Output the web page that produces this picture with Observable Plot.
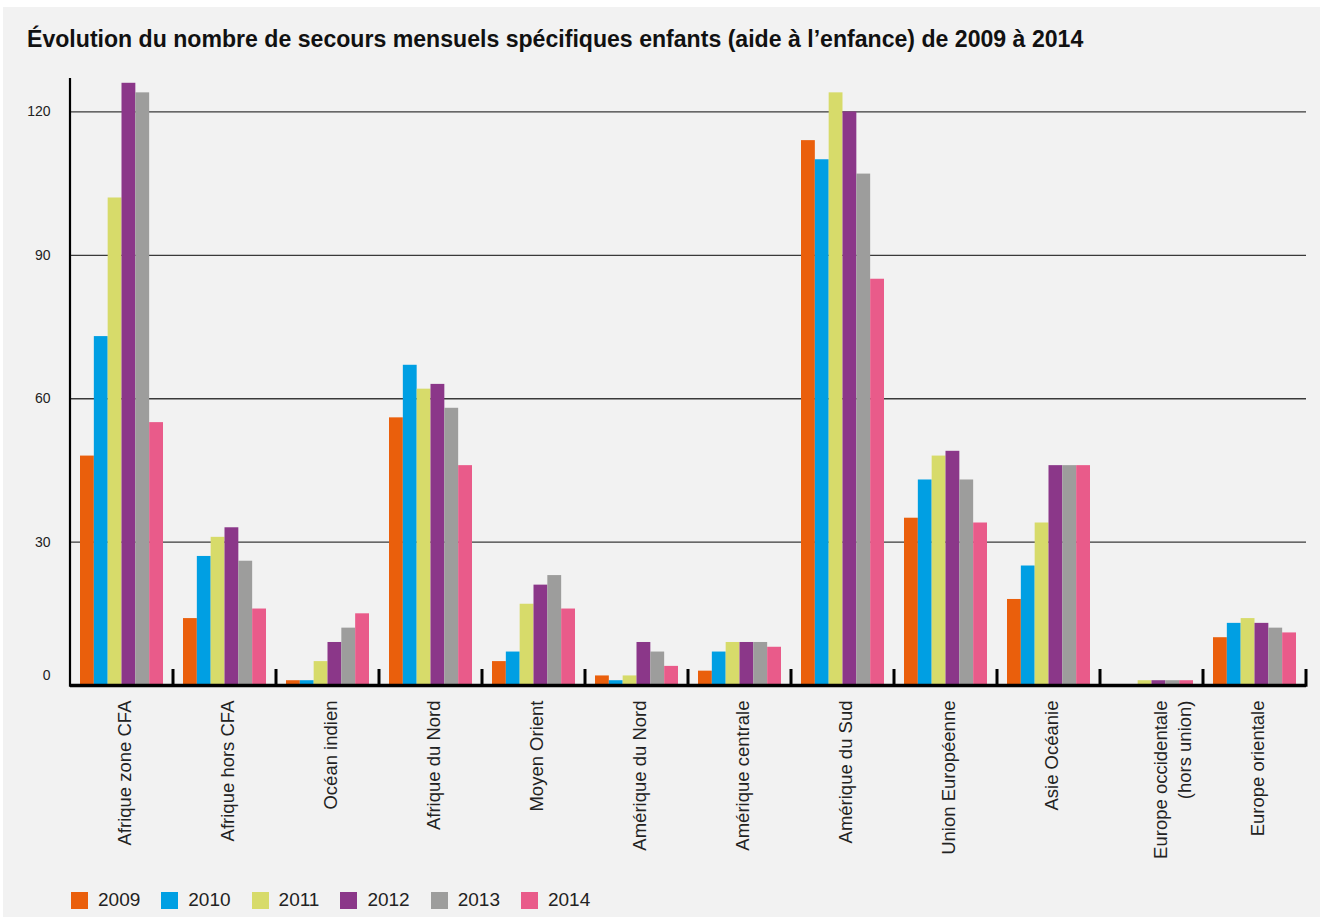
<!DOCTYPE html>
<html>
<head>
<meta charset="utf-8">
<script src="https://cdn.jsdelivr.net/npm/d3@7"></script>
<script src="https://cdn.jsdelivr.net/npm/@observablehq/plot@0.6"></script>
<style>
  html, body { margin: 0; padding: 0; background: #ffffff; }
  body { width: 1320px; height: 917px; position: relative; overflow: hidden; font-family: "Liberation Sans", Arial, sans-serif; }
  #bg { position: absolute; left: 3px; top: 7px; width: 1317px; height: 910px; background: #F2F2F2; }
  #title { position: absolute; left: 27px; top: 26px; font-size: 23.1px; font-weight: bold; color: #111; white-space: nowrap; }
  #chart { position: absolute; left: 0; top: 60px; }
  #legend { position: absolute; left: 71px; top: 889px; display: flex; align-items: center; font-size: 19px; color: #222; }
  .item { display: flex; align-items: center; margin-right: 21px; }
  .sw { width: 17px; height: 17px; margin-right: 10px; }
</style>
</head>
<body>
<div id="bg"></div>
<div id="title">Évolution du nombre de secours mensuels spécifiques enfants (aide à l’enfance) de 2009 à 2014</div>
<div id="chart"></div>
<div id="legend"></div>
<script>
const categories = ["Afrique zone CFA", "Afrique hors CFA", "Océan indien", "Afrique du Nord", "Moyen Orient", "Amérique du Nord", "Amérique centrale", "Amérique du Sud", "Union Européenne", "Asie Océanie", "Europe occidentale\n(hors union)", "Europe orientale"];
const years = ["2009", "2010", "2011", "2012", "2013", "2014"];
const colors = ["#EA5F0C", "#009FE3", "#D7DB6A", "#8B3789", "#9D9D9C", "#E95B8A"];
const v2009 = [48, 14, 1, 56, 5, 2, 3, 114, 35, 18, 0, 10];
const v2010 = [73, 27, 1, 67, 7, 1, 7, 110, 43, 25, 0, 13];
const v2011 = [102, 31, 5, 62, 17, 2, 9, 124, 48, 34, 1, 14];
const v2012 = [126, 33, 9, 63, 21, 9, 9, 120, 49, 46, 1, 13];
const v2013 = [124, 26, 12, 58, 23, 7, 9, 107, 43, 46, 1, 12];
const v2014 = [55, 16, 15, 46, 16, 4, 8, 85, 34, 46, 1, 11];
const yTicks = [30, 60, 90, 120];
const yMax = 127;

const series = [v2009, v2010, v2011, v2012, v2013, v2014];
const data = [];
categories.forEach((c, i) => {
  years.forEach((y, j) => data.push({cat: c, year: y, value: series[j][i]}));
});
const singleLine = categories.filter(c => !c.includes("\n"));
const multiLine = categories.filter(c => c.includes("\n"));

const W = 1320, H = 810;
const fxText = {anchor: "bottom", tickSize: 0, tickPadding: 15, tickRotate: -90, fontSize: 18.5, fill: "#222", label: null};
const chart = Plot.plot({
  width: W,
  height: H,
  marginLeft: 70,
  marginRight: 14,
  marginTop: 18,
  marginBottom: 185,
  style: {background: "transparent", fontFamily: "Liberation Sans, Arial, sans-serif", color: "#222"},
  fx: {domain: categories, padding: 0, round: false, axis: null, label: null},
  x: {domain: years, paddingInner: 0, paddingOuter: 0.723, round: false, axis: null},
  y: {domain: [0, yMax], axis: null},
  color: {domain: years, range: colors},
  marks: [
    Plot.ruleY(yTicks, {stroke: "#3a3a3a", strokeWidth: 1.3}),
    Plot.barY(data, {fx: "cat", x: "year", y: "value", fill: "year", inset: 0}),
    Plot.ruleY([0], {stroke: "#000", strokeWidth: 3.5}),
    Plot.axisY({ticks: yTicks, tickSize: 0, tickPadding: 20, fontSize: 14, fill: "#222", label: null}),
    Plot.axisY({ticks: [0], tickSize: 0, tickPadding: 20, fontSize: 14, fill: "#222", label: null, dy: -10}),
    Plot.axisFx({...fxText, ticks: singleLine, dx: 3}),
    Plot.axisFx({...fxText, ticks: multiLine, lineHeight: 1.33, dx: 19})
  ]
});

// y axis line and group separators, placed through the plot's own scales
const fx = chart.scale("fx");
const ys = chart.scale("y");
const svg = d3.select(chart);
const y0 = ys.apply(0);
const yTop = ys.apply(yMax);
const left = fx.apply(categories[0]);
svg.append("line")
  .attr("x1", left).attr("x2", left)
  .attr("y1", yTop).attr("y2", y0 + 1.75)
  .attr("stroke", "#000").attr("stroke-width", 2.2);
const bounds = categories.slice(1).map(c => fx.apply(c));
bounds.push(fx.apply(categories[categories.length - 1]) + fx.bandwidth);
svg.append("g").selectAll("line").data(bounds).join("line")
  .attr("x1", d => d).attr("x2", d => d)
  .attr("y1", y0 - 16).attr("y2", y0 + 1.75)
  .attr("stroke", "#000").attr("stroke-width", 3);

document.getElementById("chart").appendChild(chart);

const legend = d3.select("#legend");
years.forEach((y, i) => {
  const it = legend.append("div").attr("class", "item");
  it.append("div").attr("class", "sw").style("background", colors[i]);
  it.append("span").text(y);
});
</script>
</body>
</html>
